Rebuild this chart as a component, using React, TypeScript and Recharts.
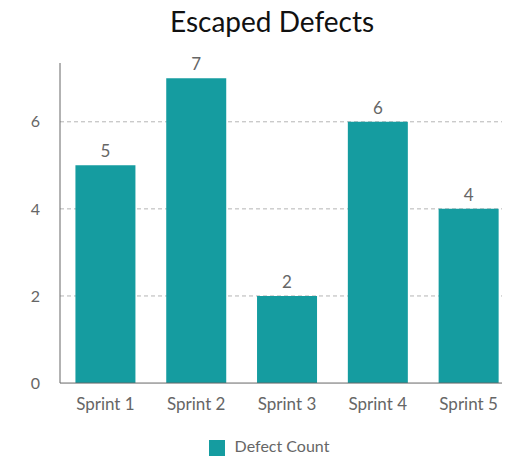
import { Bar, BarChart, CartesianGrid, LabelList, Legend, XAxis, YAxis } from "recharts";

const sprints = ["Sprint 1", "Sprint 2", "Sprint 3", "Sprint 4", "Sprint 5"];
const defectCounts = [5, 7, 2, 6, 4];
const yTicks = [0, 2, 4, 6];
const gridValues = [2, 4, 6];

const data = sprints.map((sprint, i) => ({ sprint, defects: defectCounts[i] }));

const font = "Lato, 'Open Sans', sans-serif";

export default function App() {
  return (
    <div style={{ width: 502, marginTop: -4, overflow: "hidden", fontFamily: font }}>
      <div
        style={{
          width: 476,
          marginLeft: 26,
          textAlign: "center",
          fontSize: 28,
          lineHeight: "34px",
          height: 34,
          color: "#111",
        }}
      >
        Escaped Defects
      </div>
      <BarChart
        width={528}
        height={420}
        data={data}
        margin={{ top: 25, right: 22, left: 0, bottom: 2 }}
        barCategoryGap="17%"
      >
        <CartesianGrid
          vertical={false}
          horizontalValues={gridValues}
          stroke="#b5b5b5"
          strokeDasharray="4 3"
        />
        <XAxis
          dataKey="sprint"
          height={53}
          tickLine={false}
          tickSize={0}
          tickMargin={15}
          stroke="#666"
          tick={{ fill: "#666", fontSize: 17, fontFamily: font }}
        />
        <YAxis
          width={52}
          domain={[0, 7.35]}
          ticks={yTicks}
          tickLine={false}
          tickSize={0}
          tickMargin={20}
          stroke="#666"
          tick={{ fill: "#666", fontSize: 16, fontFamily: font }}
        />
        <Legend
          iconType="square"
          iconSize={16}
          wrapperStyle={{ fontFamily: font, fontSize: 16, left: 13 }}
          formatter={(value) => (
            <span style={{ color: "#666", marginLeft: 6 }}>{value}</span>
          )}
        />
        <Bar dataKey="defects" name="Defect Count" fill="#159ca0" isAnimationActive={false}>
          <LabelList
            dataKey="defects"
            position="top"
            offset={8}
            fill="#666"
            fontSize={17}
            fontFamily={font}
          />
        </Bar>
      </BarChart>
    </div>
  );
}
